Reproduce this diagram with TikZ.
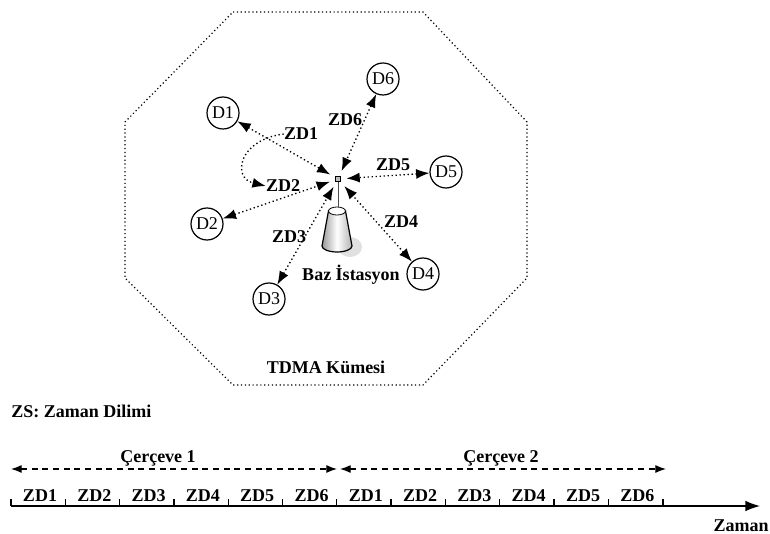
\documentclass[tikz,border=0pt]{standalone}
\usepackage{fontspec}
\setmainfont{Liberation Serif}
\usetikzlibrary{arrows.meta}
\tikzset{
  cihaz/.style={draw,circle,line width=0.9pt,minimum size=24pt,inner sep=0pt,font=\fontsize{13.5}{15}\selectfont,fill=white},
  etiket/.style={font=\fontsize{13.5}{15}\selectfont\bfseries,inner sep=0pt},
  baglanti/.style={dotted,line width=1pt,{Latex[length=10pt,width=7.5pt]}-{Latex[length=10pt,width=7.5pt]}},
  cerceve/.style={line width=0.9pt,dash pattern=on 4.5pt off 3.5pt,{Latex[length=8pt,width=6pt]}-{Latex[length=8pt,width=6pt]}}
}
\begin{document}
\begin{tikzpicture}[x=0.75pt,y=-0.75pt,line cap=butt]
    \useasboundingbox (0,0) rectangle (770,534);
    \draw[dotted,line width=0.9pt] (233,12)--(423,12)--(527,122)--(527,278)--(423,385)--(233,385)--(125,278)--(125,122)--cycle;
    \node[etiket] at (326,367) {TDMA Kümesi};
    \begin{scope}
      \fill[black!12] (350,247) ellipse (12 and 10);
      \shade[left color=black!40,right color=black!30,middle color=white,draw=black,line width=0.9pt]
        (328.5,211) -- (322,246) arc (180:0:15 and 6) -- (345.5,211) -- cycle;
      \draw[line width=0.6pt,fill=white] (337,211) ellipse (8.5 and 4);
      \draw[line width=0.7pt,black!70] (338,181)--(338,207);
      \node[draw,fill=black!25,line width=0.6pt,minimum size=4pt,inner sep=0pt] (hub) at (338,179) {};
    \end{scope}
    \node[cihaz] (D1) at (223,113) {D1};
    \node[cihaz] (D2) at (207,224) {D2};
    \node[cihaz] (D3) at (269,299) {D3};
    \node[cihaz] (D4) at (423,274) {D4};
    \node[cihaz] (D5) at (446,172) {D5};
    \node[cihaz] (D6) at (383,79) {D6};
    \foreach \d in {D1,D2,D3,D4,D5,D6}
      \draw[baglanti,shorten >=4pt] (\d) -- (hub);
    \node[etiket] (ZD1) at (301,134) {ZD1};
    \node[etiket] (ZD2) at (283,186) {ZD2};
    \node[etiket] (ZD3) at (289,237) {ZD3};
    \node[etiket] (ZD4) at (401,222) {ZD4};
    \node[etiket] (ZD5) at (393,165) {ZD5};
    \node[etiket] (ZD6) at (345,120) {ZD6};
    \node[etiket] at (351,275) {Baz İstasyon};
    \draw[dotted,line width=1pt,-{Latex[length=10pt,width=7.5pt]}] (ZD1.west) .. controls (238,140) and (232,178) .. (ZD2.west);
    \node[etiket,anchor=west] at (11,411) {ZS: Zaman Dilimi};
    \coordinate (zamanbas) at (11,506);
    \coordinate (zamanson) at (760,506);
    \draw[line width=1pt,-{Latex[length=11pt,width=8pt]}] (zamanbas) -- (zamanson);
    \node[etiket] at (741,526) {Zaman};
    \foreach \i [count=\j from 0] in {1,2,3,4,5,6,1,2,3,4,5,6} {
      \coordinate (tik\j) at (11+54.3*\j,506);
      \draw[line width=1pt] (tik\j) -- ++(0,-7);
      \node[etiket] at (40+54.3*\j,495.5) {ZD\i};
    }
    \coordinate (tik12) at (663,506);
    \draw[line width=1pt] (tik12) -- ++(0,-7);
    \coordinate (c1) at (11,469); \coordinate (c2) at (337,469);
    \coordinate (c3) at (340,469); \coordinate (c4) at (666,469);
    \draw[cerceve] (c1) -- (c2);
    \draw[cerceve] (c3) -- (c4);
    \node[etiket] at (158,458) {Çerçeve 1};
    \node[etiket] at (501,458) {Çerçeve 2};
  \end{tikzpicture}
\end{document}
